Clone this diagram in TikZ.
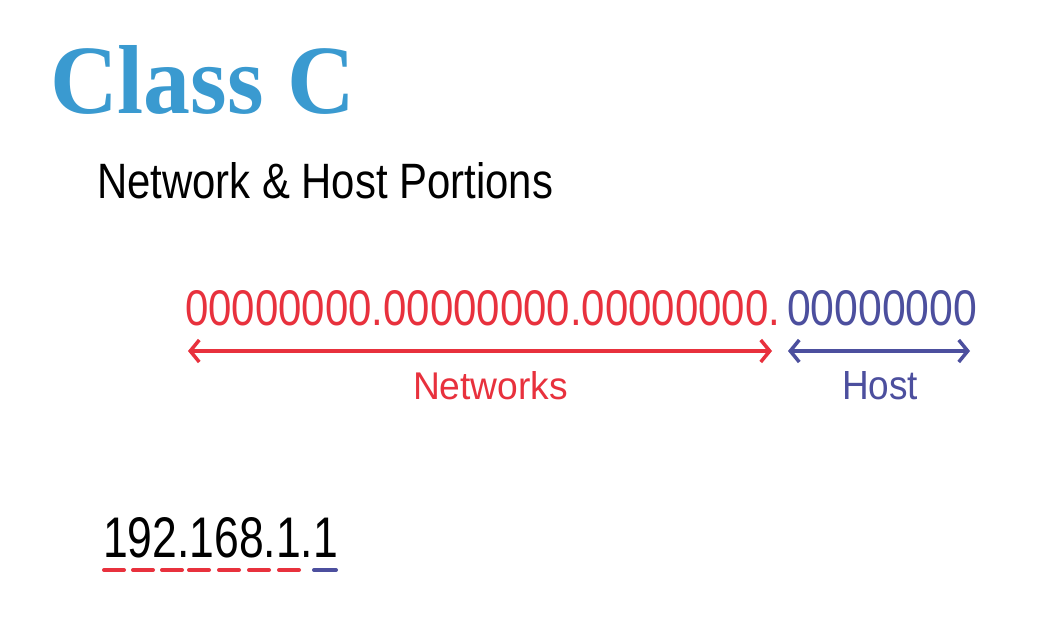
\documentclass[tikz,border=0pt]{standalone}
\usepackage{fontspec}
\setmainfont{Liberation Sans}
\newfontfamily\titlefont{Liberation Serif}
\usetikzlibrary{arrows.meta}
\definecolor{titleblue}{HTML}{3A9AD0}
\definecolor{netred}{HTML}{E8313D}
\definecolor{hostblue}{HTML}{4C4F9E}
\tikzset{
  txt/.style={inner sep=0pt, outer sep=0pt, anchor=base west},
  dbl/.style={line width=4.5pt, {Straight Barb[length=9pt,width=22pt,line width=3.5pt]}-{Straight Barb[length=9pt,width=22pt,line width=3.5pt]}},
  dashmark/.style={line width=4pt, line cap=round},
}
\begin{document}
\begin{tikzpicture}[x=1pt,y=-1pt]
\useasboundingbox[fill=white] (0,0) rectangle (1052,632);
% title
\node[txt, text=titleblue] (title) at (50,113)
  {\resizebox{305pt}{68pt}{\titlefont\bfseries Class C}};
\node[txt, text=black] (sub) at (97,198)
  {\resizebox{456pt}{36pt}{Network \& Host Portions}};
% binary
\node[txt, text=netred] (bnet) at (185,325)
  {\resizebox{595pt}{35pt}{00000000.00000000.00000000.}};
\node[txt, text=hostblue] (bhost) at (787,325)
  {\resizebox{190pt}{35pt}{00000000}};
% arrows
\coordinate (nl) at (188,351);
\coordinate (nr) at (772,351);
\coordinate (hl) at (788,351);
\coordinate (hr) at (970,351);
\draw[dbl, netred] (nl) -- (nr);
\draw[dbl, hostblue] (hl) -- (hr);
% labels
\node[txt, text=netred] (lnet) at (413,399)
  {\resizebox{155pt}{28pt}{Networks}};
\node[txt, text=hostblue] (lhost) at (842,399)
  {\resizebox{76pt}{28pt}{Host}};
% example address
\node[txt, text=black] (addr) at (103,557)
  {\resizebox{235pt}{40pt}{192.168.1.1}};
% dashes
\foreach \a/\b in {104/124,133/153,162/182,189/209,219/239,249/269,279/299}
  \draw[dashmark, netred] (\a,570) -- (\b,570);
\draw[dashmark, hostblue] (314,570) -- (336,570);
\end{tikzpicture}
\end{document}
